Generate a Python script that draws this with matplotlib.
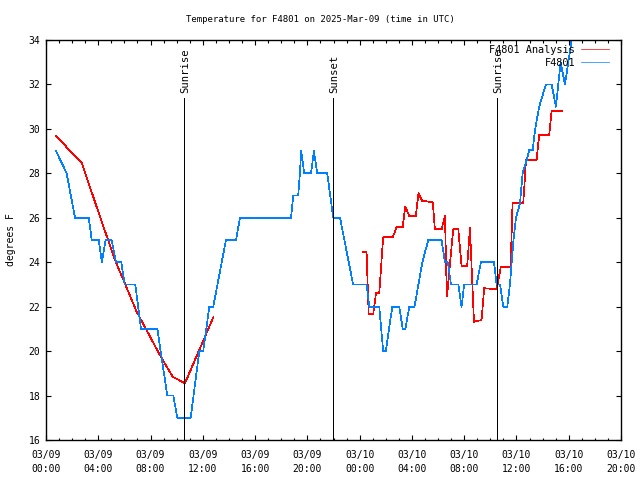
import matplotlib
matplotlib.use("Agg")
import matplotlib.pyplot as plt
import numpy as np

# ---- data (hours since 2025-03-09 00:00 UTC) ----
obs_hours = [0.77, 1.58, 2.22, 3.27, 3.5, 4.03, 4.28, 4.56, 5.02, 5.36, 5.76, 6.02, 6.83,
             7.27, 8.52, 9.28, 9.74, 10.05, 11.07, 11.73, 12.03, 12.5, 12.8, 13.77, 14.54,
             14.84, 18.75, 18.92, 19.3, 19.43, 19.53, 19.76, 20.28, 20.5, 20.76, 21.52,
             21.98, 22.5, 23.5, 24.53, 24.74, 25.5, 25.8, 26.0, 26.5, 27.03, 27.3, 27.5,
             27.8, 28.2, 28.8, 29.25, 30.27, 30.53, 30.75, 30.99, 31.55, 31.8, 32.0, 32.95,
             33.28, 34.28, 34.48, 34.74, 34.99, 35.3, 35.5, 35.75, 35.96, 36.27, 36.47,
             36.78, 36.98, 37.24, 37.42, 37.74, 38.25, 38.69, 39.02, 39.38, 39.71, 40.22,
             40.5]
obs_temp = [29.0, 28.0, 26.0, 26.0, 25.0, 25.0, 24.0, 25.0, 25.0, 24.0, 24.0, 23.0, 23.0,
            21.0, 21.0, 18.0, 18.0, 17.0, 17.0, 20.0, 20.0, 22.0, 22.0, 25.0, 25.0,
            26.0, 26.0, 27.0, 27.0, 28.0, 29.0, 28.0, 28.0, 29.0, 28.0, 28.0,
            26.0, 26.0, 23.0, 23.0, 22.0, 22.0, 20.0, 20.0, 22.0, 22.0, 21.0, 21.0,
            22.0, 22.0, 24.0, 25.0, 25.0, 24.0, 24.0, 23.0, 23.0, 22.0, 23.0, 23.0,
            24.0, 24.0, 23.0, 23.0, 22.0, 22.0, 23.0, 24.85, 26.0, 26.65, 28.0,
            28.6, 29.05, 29.05, 29.95, 31.0, 32.0, 32.0, 31.0, 33.0, 32.0, 34.0,
            35.0]

ana_hours = [0.77, 2.75, 4.13, 5.28, 6.94, 8.72, 9.69, 10.63, 12.8, np.nan,
             24.28, 24.53, 24.69, 25.04, 25.15, 25.25, 25.5, 25.8, 26.53, 26.83, 27.29,
             27.49, 27.8, 28.3, 28.5, 28.77, 29.6, 29.76, 30.27, 30.53, 30.66, 30.7,
             30.75, 31.16, 31.55, 31.8, 32.23, 32.44, 32.75, 33.33, 33.53, 34.48, 34.8,
             35.55, 35.7, 36.52, 36.73, 37.54, 37.74, 38.51, 38.69, 39.53]
ana_temp = [29.68, 28.45, 26.05, 24.1, 21.77, 19.82, 18.85, 18.55, 21.52, np.nan,
            24.47, 24.47, 21.67, 21.67, 22.15, 22.6, 22.6, 25.12, 25.12, 25.57, 25.57,
            26.5, 26.08, 26.08, 27.1, 26.77, 26.7, 25.48, 25.48, 26.1, 22.75, 22.45,
            22.9, 25.48, 25.48, 23.83, 23.83, 25.53, 21.32, 21.4, 22.83, 22.78, 23.77,
            23.77, 26.65, 26.65, 28.6, 28.6, 29.73, 29.73, 30.8, 30.8]

event_hours = [10.58, 21.98, 34.53]
event_labels = ["Sunrise", "Sunset", "Sunrise"]

xtick_hours = [0, 4, 8, 12, 16, 20, 24, 28, 32, 36, 40, 44]
xtick_labels = ["03/09\n00:00", "03/09\n04:00", "03/09\n08:00", "03/09\n12:00",
                "03/09\n16:00", "03/09\n20:00", "03/10\n00:00", "03/10\n04:00",
                "03/10\n08:00", "03/10\n12:00", "03/10\n16:00", "03/10\n20:00"]
ytick_vals = [16, 18, 20, 22, 24, 26, 28, 30, 32, 34]

title = "Temperature for F4801 on 2025-Mar-09 (time in UTC)"

# ---- plotting ----
plt.rcParams['font.family'] = ['DejaVu Sans Mono']
plt.rcParams['font.size'] = 7

fig = plt.figure(figsize=(6.4, 4.8), dpi=100)
ax = fig.add_axes([46/640, 40/480, (621-46)/640, 400/480])

ax.plot(ana_hours, ana_temp, color='#ff0000', lw=0.5, label='F4801 Analysis',
        antialiased=False)
ax.plot(obs_hours, obs_temp, color='#0080ff', lw=0.5, label='F4801',
        antialiased=False)

top_line = 31.4
for h, lab in zip(event_hours, event_labels):
    ax.plot([h, h], [16, top_line], color='black', lw=0.72, antialiased=False)
    ax.text(h + 0.08, 31.6, lab, rotation=90, ha='center', va='bottom', fontsize=7.6)

ax.set_xlim(0, 44)
ax.set_ylim(16, 34)
ax.set_xticks(xtick_hours)
ax.set_xticklabels(xtick_labels, linespacing=1.5)
ax.set_xticks(np.arange(0, 45, 1), minor=True)
ax.set_yticks(ytick_vals)
ax.set_yticklabels([str(v) for v in ytick_vals])
ax.tick_params(which='both', direction='in', top=True, right=True, width=0.8)
ax.tick_params(which='major', length=3.6)
ax.tick_params(which='minor', length=1.8)
ax.tick_params(axis='x', which='major', pad=7)
ax.tick_params(axis='y', which='major', pad=4)
for s in ax.spines.values():
    s.set_linewidth(1.0)

ax.set_ylabel("degrees F", fontsize=7, labelpad=9)

fig.text(320/640, 1 - 19/480, title, ha='center', va='center', fontsize=6.5)

leg = ax.legend(loc='upper right', bbox_to_anchor=(0.979, 0.9875), frameon=False,
                fontsize=7.4, handlelength=2.7, markerfirst=False, borderpad=0,
                borderaxespad=0, labelspacing=0.3, handletextpad=0.6)
for t in leg.get_texts():
    t.set_ha('right')

fig.savefig("out.png", dpi=100)
